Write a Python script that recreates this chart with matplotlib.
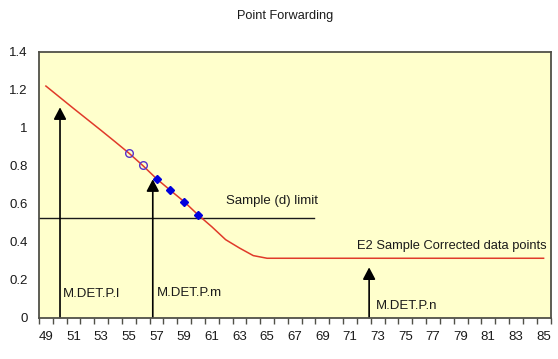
import matplotlib
matplotlib.use("Agg")
import matplotlib.pyplot as plt

plt.rcParams['font.family'] = ['Liberation Sans', 'DejaVu Sans']

# Data
categories = list(range(49, 86))
line_values = [1.219, 1.160, 1.101, 1.043, 0.985, 0.926, 0.866, 0.801, 0.731, 0.670,
               0.610, 0.541, 0.478, 0.410, 0.366, 0.326, 0.312] + [0.312] * 20
open_x = [55, 56]
open_y = [0.866, 0.801]
filled_x = [57, 58, 59, 60]
filled_y = [0.731, 0.670, 0.610, 0.541]
tick_labels = [str(v) for v in range(49, 86, 2)]
arrow_x = [50.02, 56.73, 72.38]
arrow_tip = [1.107, 0.728, 0.264]
arrow_labels = ["M.DET.P.l", "M.DET.P.m", "M.DET.P.n"]
label_x = [50.26, 57.0, 72.88]
label_y = [0.122, 0.131, 0.061]
limit_y = 0.5255
limit_end = 68.42

fig = plt.figure(figsize=(5.58, 3.59), dpi=100)
ax = fig.add_axes([39 / 558, (359 - 317.5) / 359, (550.5 - 39) / 558, (317.5 - 51.7) / 359])
ax.set_facecolor('#FFFFCC')
for s in ax.spines.values():
    s.set_color('#505048')
    s.set_linewidth(1.3)

ax.set_xlim(48.5, 85.5)
ax.set_ylim(0, 1.4)

ax.plot(categories, line_values, color='#E03A2A', lw=1.1, zorder=3)
ax.plot(open_x, open_y, ls='none', marker='o', ms=5.5, mfc='none', mec='#5533CC', mew=1.0, zorder=4)
ax.plot(filled_x, filled_y, ls='none', marker='D', ms=4.5, mfc='#0000DD', mec='#0000DD', zorder=4)

ax.plot([48.5, limit_end], [limit_y, limit_y], color='#1a1a1a', lw=1.0, zorder=2)
ax.text(62.03, 0.615, "Sample (d) limit", fontsize=9.5, va='center', ha='left', color='#1a1a1a')
ax.text(85.24, 0.378, "E2 Sample Corrected data points", fontsize=9.3, va='center', ha='right', color='#1a1a1a')

for xv, tip, lx, ly, lab in zip(arrow_x, arrow_tip, label_x, label_y, arrow_labels):
    ax.annotate('', xy=(xv, tip), xytext=(xv, 0),
                arrowprops=dict(arrowstyle='-|>,head_length=0.72,head_width=0.38',
                                mutation_scale=10, color='black', lw=1.2,
                                shrinkA=0, shrinkB=0), zorder=2)
    ax.text(lx, ly, lab, fontsize=9.5, va='center', ha='left', color='#1a1a1a')

ax.set_xticks(categories)
ax.set_xticklabels([str(c) if (c - 49) % 2 == 0 else '' for c in categories])
ax.tick_params(axis='x', which='major', length=0, pad=10, labelsize=9.5, labelcolor='#1a1a1a')
ax.set_xticks([c - 0.5 for c in categories] + [85.5], minor=True)
ax.tick_params(axis='x', which='minor', length=4, color='#505048', width=1)

ax.set_yticks([0, 0.2, 0.4, 0.6, 0.8, 1.0, 1.2, 1.4])
ax.set_yticklabels(['0', '0.2', '0.4', '0.6', '0.8', '1', '1.2', '1.4'])
ax.tick_params(axis='y', length=0, pad=8, labelsize=9.5, labelcolor='#1a1a1a')

fig.text(285 / 558, 1 - 16 / 359, "Point Forwarding", fontsize=9.2, ha='center', va='center', color='#1a1a1a')

fig.savefig('out.png', dpi=100, facecolor='white')
